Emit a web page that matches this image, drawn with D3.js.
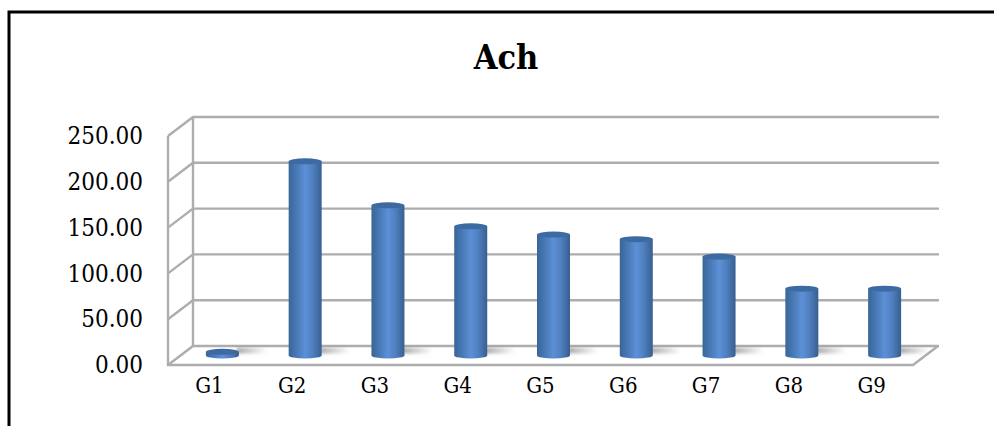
<!DOCTYPE html>
<html>
<head>
<meta charset="utf-8">
<script src="https://cdnjs.cloudflare.com/ajax/libs/d3/7.8.5/d3.min.js"></script>
<style>
    html, body { margin: 0; padding: 0; background: #fff; overflow: hidden; }
    text { font-family: "DejaVu Serif Condensed", "DejaVu Serif", serif; font-stretch: condensed; fill: #000; }
    .domain { display: none; }
</style>
</head>
<body>
<div class="chart"></div>
<script>
// chart values
var categories = ["G1", "G2", "G3", "G4", "G5", "G6", "G7", "G8", "G9"];
var achValues = [4, 212, 164, 141, 132, 127, 108, 73, 73];
var yTicks = [0, 50, 100, 150, 200, 250];
var chartTitle = "Ach";

var svgWidth = 994, svgHeight = 426;

// front plane of the fake 3d box
var plot = { left: 168, right: 913, top: 136, bottom: 365 };
// how far the back wall is shifted from the front plane
var depth = { x: 25, y: -19 };

var svg = d3.select(".chart").append("svg")
    .attr("width", svgWidth)
    .attr("height", svgHeight)
    .style("display", "block");

var xScale = d3.scaleBand()
    .domain(categories)
    .range([plot.left, plot.right]);

var yScale = d3.scaleLinear()
    .domain([0, 250])
    .range([plot.bottom, plot.top]);

// cylinder shading + shadow blur
var defs = svg.append("defs");
var barGrad = defs.append("linearGradient").attr("id", "barGrad");
[[0, "#3a6598"], [0.18, "#4474ae"], [0.5, "#5c90d6"], [0.72, "#5080c0"], [1, "#375f90"]].forEach(d => {
    barGrad.append("stop").attr("offset", d[0]).attr("stop-color", d[1]);
});
var shadowGrad = defs.append("linearGradient").attr("id", "shadowGrad");
[[0, "#8c8c8c", 0.75], [1, "#8c8c8c", 0]].forEach(d => {
    shadowGrad.append("stop").attr("offset", d[0]).attr("stop-color", d[1]).attr("stop-opacity", d[2]);
});
defs.append("filter").attr("id", "soft")
    .attr("x", "-30%").attr("y", "-80%").attr("width", "160%").attr("height", "260%")
    .append("feGaussianBlur").attr("stdDeviation", 1.5);
defs.append("filter").attr("id", "slight")
    .attr("x", "-5%").attr("y", "-5%").attr("width", "110%").attr("height", "110%")
    .append("feGaussianBlur").attr("stdDeviation", 0.6);

// outer frame, only top and left show in the picture
svg.append("path")
    .attr("d", `M9,${svgHeight} V12 H${svgWidth}`)
    .attr("fill", "none")
    .attr("stroke", "#000")
    .attr("stroke-width", 3);

svg.append("text")
    .attr("x", 506)
    .attr("y", 69)
    .attr("text-anchor", "middle")
    .style("font-size", "34px")
    .style("font-weight", "bold")
    .text(chartTitle);

// walls and gridlines
var gridGroup = svg.append("g")
    .attr("fill", "none")
    .attr("stroke", "#adadad")
    .attr("stroke-width", 2.4)
    .attr("filter", "url(#slight)");

gridGroup.selectAll("path.grid")
    .data(yTicks)
    .enter()
    .append("path")
    .attr("class", "grid")
    .attr("d", d => `M${plot.left},${yScale(d)} l${depth.x},${depth.y} H${plot.right + depth.x + 1}`);

// left edge, front edge of floor, right edge of floor
gridGroup.append("path")
    .attr("d", `M${plot.left},${plot.top} V${plot.bottom} H${plot.right} l${depth.x},${depth.y}`);
gridGroup.append("path")
    .attr("d", `M${plot.left + depth.x},${plot.top + depth.y} V${plot.bottom + depth.y}`);

// bars stand halfway into the box
var barWidth = 33;
var capRy = 3;
var midX = d => xScale(d) + xScale.bandwidth() / 2 + depth.x / 2 + 0.5;
var baseY = plot.bottom + depth.y / 2;
var topY = d => baseY - (yScale(0) - yScale(d));

var barGroups = svg.append("g")
    .selectAll("g")
    .data(categories.map((c, i) => ({ cat: c, val: achValues[i] })))
    .enter()
    .append("g");

// floor shadow to the right of each bar
barGroups.append("rect")
    .attr("x", d => midX(d.cat) + barWidth / 2 - 2)
    .attr("y", baseY - 8)
    .attr("width", 30)
    .attr("height", 6)
    .attr("fill", "url(#shadowGrad)")
    .attr("filter", "url(#soft)");

barGroups.append("path")
    .attr("d", d => {
        var x0 = midX(d.cat) - barWidth / 2;
        return `M${x0},${topY(d.val)} V${baseY} A${barWidth / 2},${capRy} 0 0 0 ${x0 + barWidth},${baseY} V${topY(d.val)} Z`;
    })
    .attr("fill", "url(#barGrad)")
    .attr("filter", "url(#slight)");

barGroups.append("ellipse")
    .attr("cx", d => midX(d.cat))
    .attr("cy", d => topY(d.val))
    .attr("rx", barWidth / 2)
    .attr("ry", capRy)
    .attr("fill", "#3d6aa2")
    .attr("filter", "url(#slight)");

// axes
var leftAxis = d3.axisLeft(yScale)
    .tickValues(yTicks)
    .tickSize(0)
    .tickPadding(25)
    .tickFormat(d3.format(".2f"));

svg.append("g")
    .attr("transform", `translate(${plot.left}, 0)`)
    .call(leftAxis)
    .selectAll("text")
    .style("font-size", "24px");

var bottomAxis = d3.axisBottom(xScale)
    .tickSize(0)
    .tickPadding(12);

svg.append("g")
    .attr("transform", `translate(0, ${plot.bottom})`)
    .call(bottomAxis)
    .selectAll("text")
    .style("font-size", "22px");
</script>
</body>
</html>
